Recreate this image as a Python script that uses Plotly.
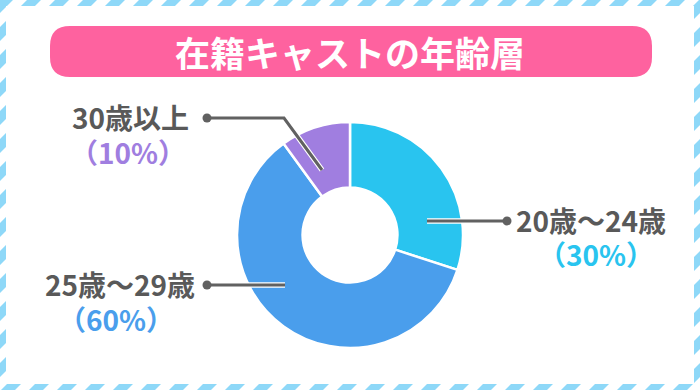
import plotly.graph_objects as go

W, H = 700, 390

# ---- data ----
categories = ["20歳～24歳", "25歳～29歳", "30歳以上"]
values = [30, 60, 10]
pct_labels = ["（30%）", "（60%）", "（10%）"]
colors = ["#29c4ef", "#4a9eec", "#a07ee0"]
title_text = "在籍キャストの年齢層"

def X(px):
    return px / W

def Y(py):
    return 1 - py / H

fig = go.Figure()

# donut: centre (350,235) radius 113 px
cx, cy, r = 350, 235, 113
fig.add_trace(go.Pie(
    labels=categories,
    values=values,
    sort=False,
    direction="clockwise",
    rotation=0,
    hole=0.42,
    marker=dict(colors=colors, line=dict(color="white", width=2.5)),
    textinfo="none",
    hoverinfo="skip",
    showlegend=False,
    domain=dict(x=[X(cx - r), X(cx + r)], y=[Y(cy + r), Y(cy - r)]),
))

shapes = []

# striped frame background
stripe_color = "#8ed8f8"
period, bw = 28, 14
parts = []
a = -H + 25 - period * 2
while a < W + H + period:
    pts = [(a, 0), (a + bw, 0), (a + bw - H, H), (a - H, H)]
    parts.append("M " + " L ".join(f"{X(px):.5f},{Y(py):.5f}" for px, py in pts) + " Z")
    a += period
shapes.append(dict(type="path", xref="paper", yref="paper", path=" ".join(parts),
                   fillcolor=stripe_color, line=dict(width=0), layer="below"))
inset = 6
shapes.append(dict(type="rect", xref="paper", yref="paper",
                   x0=X(inset), x1=X(W - inset), y0=Y(H - inset), y1=Y(inset),
                   fillcolor="white", line=dict(width=0), layer="below"))

# title pill
def rounded_rect(x0, y0, x1, y1, rr):
    p = [
        f"M {X(x0 + rr)},{Y(y0)}",
        f"L {X(x1 - rr)},{Y(y0)}",
        f"Q {X(x1)},{Y(y0)} {X(x1)},{Y(y0 + rr)}",
        f"L {X(x1)},{Y(y1 - rr)}",
        f"Q {X(x1)},{Y(y1)} {X(x1 - rr)},{Y(y1)}",
        f"L {X(x0 + rr)},{Y(y1)}",
        f"Q {X(x0)},{Y(y1)} {X(x0)},{Y(y1 - rr)}",
        f"L {X(x0)},{Y(y0 + rr)}",
        f"Q {X(x0)},{Y(y0)} {X(x0 + rr)},{Y(y0)}",
        "Z",
    ]
    return " ".join(p)

shapes.append(dict(type="path", xref="paper", yref="paper",
                   path=rounded_rect(50, 26, 652, 77, 20),
                   fillcolor="#fe629f", line=dict(width=0), layer="below"))

# leader lines (pixel polylines) with white outline
line_gray = "#616161"
leaders = [
    [(427, 221), (507, 221)],
    [(285, 285), (207, 285)],
    [(322, 170), (284, 118), (207, 118)],
]
dots = [(507, 221), (207, 285), (207, 118)]
for pts in leaders:
    path = "M " + " L ".join(f"{X(px):.5f},{Y(py):.5f}" for px, py in pts)
    shapes.append(dict(type="path", xref="paper", yref="paper", path=path,
                       line=dict(color="white", width=5.5)))
for pts in leaders:
    path = "M " + " L ".join(f"{X(px):.5f},{Y(py):.5f}" for px, py in pts)
    shapes.append(dict(type="path", xref="paper", yref="paper", path=path,
                       line=dict(color=line_gray, width=3)))
for (px, py) in dots:
    rd = 4.5
    shapes.append(dict(type="circle", xref="paper", yref="paper",
                       x0=X(px - rd), x1=X(px + rd), y0=Y(py + rd), y1=Y(py - rd),
                       fillcolor=line_gray, line=dict(width=0)))

font_family = "Noto Sans CJK JP"
annotations = [
    dict(x=X(350), y=Y(52), text=title_text, showarrow=False, xanchor="center", yanchor="middle",
         font=dict(family=font_family, size=35, color="white", weight="bold")),
]

# (label x, anchor, label y, pct centre x, pct y)
label_pos = [
    (514, "left", 220, 596, 254),
    (197, "right", 284, 116, 319),
    (191, "right", 117, 128, 152),
]
fs = 28
for i, (lx, anc, ly, pcx, pcy) in enumerate(label_pos):
    annotations.append(dict(x=X(lx), y=Y(ly), text=categories[i], showarrow=False,
                            xanchor=anc, yanchor="middle",
                            font=dict(family=font_family, size=fs, color="#595959", weight="bold")))
    annotations.append(dict(x=X(pcx), y=Y(pcy), text=pct_labels[i], showarrow=False,
                            xanchor="center", yanchor="middle",
                            font=dict(family=font_family, size=fs, color=colors[i], weight="bold")))

fig.update_layout(
    width=W, height=H,
    margin=dict(l=0, r=0, t=0, b=0),
    paper_bgcolor="white",
    plot_bgcolor="white",
    shapes=shapes,
    annotations=annotations,
)

fig.write_html("out.html", config={"displayModeBar": False},
               post_script="document.body.style.margin='0px';document.body.style.overflow='hidden';")
